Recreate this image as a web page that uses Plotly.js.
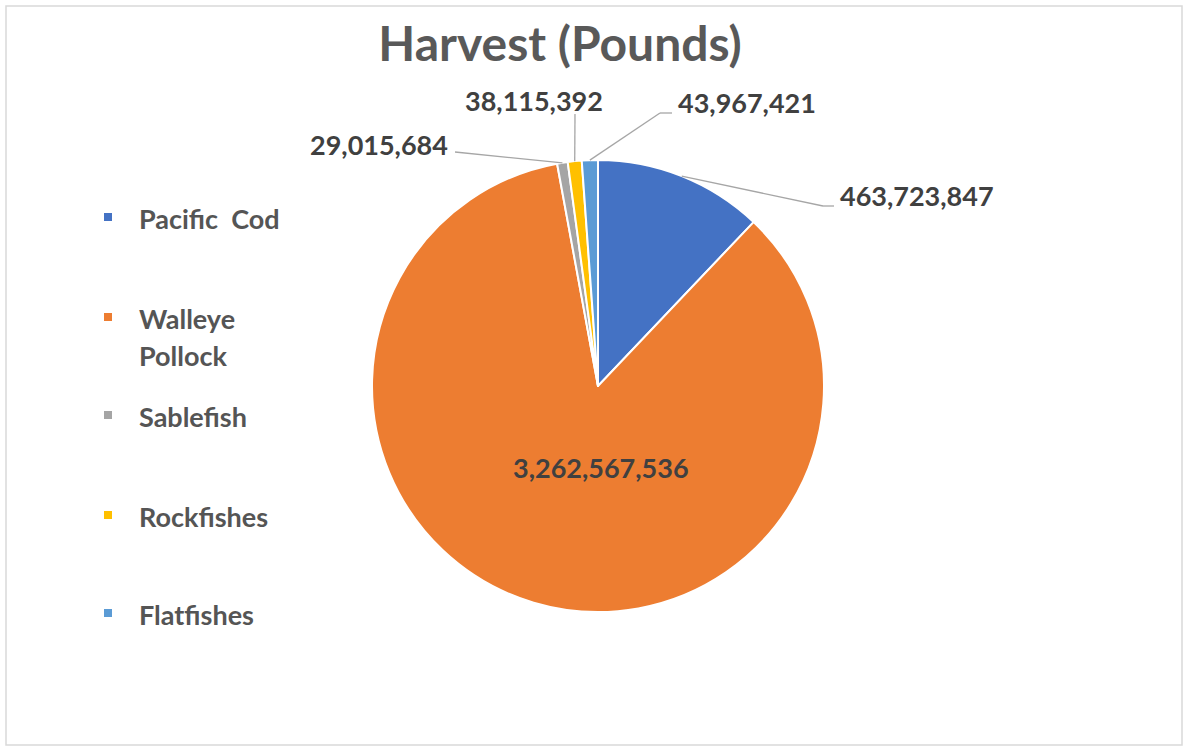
<!DOCTYPE html>
<html>
<head>
<meta charset="utf-8">
<script src="https://cdn.plot.ly/plotly-3.0.1.min.js"></script>
<style>html,body{margin:0;padding:0;background:#fff;}#chart{width:1184px;height:747px;}</style>
</head>
<body>
<div id="chart"></div>
<script>
// ---- data ----
const labels = ['Pacific  Cod', 'Walleye Pollock', 'Sablefish', 'Rockfishes', 'Flatfishes'];
const values = [463723847, 3262567536, 29015684, 38115392, 43967421];
const colors = ['#4472C4', '#ED7D31', '#A5A5A5', '#FFC000', '#5B9BD5'];
const chartTitle = 'Harvest (Pounds)';

// ---- layout helpers (pixel positions in a 1184x747 page) ----
const W = 1184, H = 747;
const px = x => x / W;
const py = y => 1 - y / H;
const cx = 598, cy = 386, R = 226;

// label placement (text centres) and leader-line knee/end points
const labelPos = [
  {x: 917, y: 195, knee: [823, 206], end: [834, 206]},
  {x: 601, y: 467, inside: true},
  {x: 379, y: 145, knee: null, end: [455, 152]},
  {x: 534, y: 100, knee: null, end: [575, 114]},
  {x: 747, y: 103, knee: [660, 113], end: [672, 113]}
];
const legendY = [217, 317, 415, 515, 613];
const legendLineGap = 38;

const total = values.reduce((a, b) => a + b, 0);
const fmt = v => v.toLocaleString('en-US');

const annotations = [];
const shapes = [];

// frame
shapes.push({type: 'rect', xref: 'paper', yref: 'paper', x0: px(6), x1: px(1182), y0: py(745), y1: py(6),
  line: {color: '#D9D9D9', width: 1.5}, fillcolor: 'rgba(0,0,0,0)', layer: 'below'});

let cum = 0;
values.forEach((v, i) => {
  const frac = v / total;
  const midDeg = (cum + frac / 2) * 360;
  cum += frac;
  const a = midDeg * Math.PI / 180;
  const ex = cx + R * Math.sin(a), ey = cy - R * Math.cos(a);
  const lp = labelPos[i];
  annotations.push({
    xref: 'paper', yref: 'paper', x: px(lp.x), y: py(lp.y), xanchor: 'center', yanchor: 'middle',
    text: fmt(v), showarrow: false,
    font: {family: 'Lato, "Open Sans", sans-serif', size: 27, color: '#404040', weight: 'bold'}
  });
  if (!lp.inside) {
    const pts = [[ex, ey]];
    if (lp.knee) pts.push(lp.knee);
    pts.push(lp.end);
    for (let k = 0; k < pts.length - 1; k++) {
      shapes.push({type: 'line', xref: 'paper', yref: 'paper',
        x0: px(pts[k][0]), y0: py(pts[k][1]), x1: px(pts[k + 1][0]), y1: py(pts[k + 1][1]),
        line: {color: '#A6A6A6', width: 1.3}});
    }
  }
  // legend entry
  const ly = legendY[i];
  shapes.push({type: 'rect', xref: 'paper', yref: 'paper', x0: px(104), x1: px(112), y0: py(ly + 4), y1: py(ly - 4),
    fillcolor: colors[i], line: {width: 0}});
  const lines = labels[i].length > 12 ? labels[i].split(' ') : [labels[i]];
  lines.forEach((t, j) => {
    annotations.push({
      xref: 'paper', yref: 'paper', x: px(137), y: py(ly + j * legendLineGap + 1), xanchor: 'left', yanchor: 'middle',
      text: t, showarrow: false,
      font: {family: 'Lato, "Open Sans", sans-serif', size: 27, color: '#555555', weight: 'bold'}
    });
  });
});

const trace = {
  type: 'pie',
  labels: labels,
  values: values,
  sort: false,
  direction: 'clockwise',
  rotation: 0,
  textinfo: 'none',
  hoverinfo: 'label+value',
  marker: {colors: colors, line: {color: '#FFFFFF', width: 2}},
  domain: {x: [px(cx - R), px(cx + R)], y: [py(cy + R), py(cy - R)]},
  showlegend: false
};

const layout = {
  width: W, height: H,
  margin: {l: 0, r: 0, t: 0, b: 0},
  paper_bgcolor: '#FFFFFF',
  title: {
    text: chartTitle, x: px(560), xanchor: 'center', y: py(44), yanchor: 'middle',
    font: {family: 'Lato, "Open Sans", sans-serif', size: 48, color: '#595959', weight: 'bold'}
  },
  showlegend: false,
  annotations: annotations,
  shapes: shapes
};

Plotly.newPlot('chart', [trace], layout, {displayModeBar: false, staticPlot: true});
</script>
</body>
</html>
